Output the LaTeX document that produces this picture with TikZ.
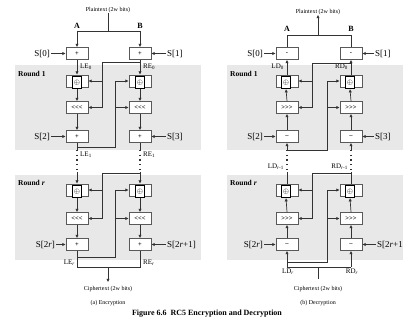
\documentclass[tikz,border=0pt]{standalone}
\usepackage{fontspec}
\setmainfont{Liberation Serif}
\usetikzlibrary{arrows.meta}
\newcommand{\rotl}{<\kern0pt<\kern0pt<}
\newcommand{\rotr}{>\kern0pt>\kern0pt>}
\begin{document}
\begin{tikzpicture}[x=1pt,y=-1pt,
  ln/.style={draw=black!80, line width=0.7pt},
  arr/.style={ln, -{Triangle[length=3.2pt,width=2.8pt]}},
  opbox/.style={draw=black!65, line width=0.9pt, fill=white, minimum width=22pt, minimum height=12pt, inner sep=0pt, font=\fontsize{6.5}{6.5}\selectfont\bfseries},
  xorin/.style={draw=black, line width=0.9pt, fill=white, minimum width=9pt, minimum height=12.5pt, inner sep=0pt, font=\fontsize{7}{7}\selectfont},
  slab/.style={font=\fontsize{9}{9}\selectfont, inner sep=1pt},
  wlab/.style={font=\fontsize{7}{7}\selectfont, inner sep=0pt},
  ablab/.style={font=\fontsize{8}{8}\selectfont\bfseries, inner sep=0pt},
  rlab/.style={font=\fontsize{7.5}{7.5}\selectfont\bfseries, inner sep=0pt, anchor=west},
  tinytxt/.style={font=\fontsize{6}{6}\selectfont, inner sep=0pt},
  band/.style={fill=black!9, draw=none},
  dotl/.style={draw=black!80, line width=1.1pt, dash pattern=on 1.1pt off 3.6pt}
]
\useasboundingbox (0,0) rectangle (403,321);
\fill[white] (0,0) rectangle (403,321);
% bands
\fill[band] (15,65) rectangle (201,150);
\fill[band] (15,175) rectangle (201,260);
\fill[band] (227,65) rectangle (403,150);
\fill[band] (227,175) rectangle (403,260);

%================ ENCRYPTION ================
\node[tinytxt] (ept) at (108,10) {Plaintext (2w bits)};
\node[ablab] (eA) at (77,26) {A};
\node[ablab] (eB) at (140,26) {B};
\coordinate (ejT) at (108,31);
\coordinate (eTL) at (77,31);
\coordinate (eTR) at (140,31);
\draw[ln] (ept.south) -- (ejT);
\draw[ln] (eTL) -- (eTR);
\node[rlab] (eR1) at (18,74) {Round 1};
\node[rlab] (eRr) at (18,183) {Round \textit{r}};

% round 1 boxes
\node[opbox] (ea0) at (77,53.5) {+};
\node[opbox] (eb0) at (140,53.5) {+};
\node[opbox] (ex1L) at (77,81) {};
\node[xorin] (ex1Li) at (77,82.5) {$\oplus$};
\node[opbox] (ex1R) at (140,81) {};
\node[xorin] (ex1Ri) at (140,82.5) {$\oplus$};
\node[opbox] (eo1L) at (77,107.5) {\rotl};
\node[opbox] (eo1R) at (140,107.5) {\rotl};
\node[opbox] (ea1) at (77,136.5) {+};
\node[opbox] (eb1) at (140,136.5) {+};
% round r boxes
\node[opbox] (exrL) at (77,190) {};
\node[xorin] (exrLi) at (77,191.5) {$\oplus$};
\node[opbox] (exrR) at (140,190) {};
\node[xorin] (exrRi) at (140,191.5) {$\oplus$};
\node[opbox] (eorL) at (77,218.5) {\rotl};
\node[opbox] (eorR) at (140,218.5) {\rotl};
\node[opbox] (earL) at (77,244.5) {+};
\node[opbox] (earR) at (140,244.5) {+};

% key labels
\node[slab, anchor=east] (es0) at (51,53.5) {S[0]};
\node[slab, anchor=west] (es1) at (166,53.5) {S[1]};
\node[slab, anchor=east] (es2) at (51,136.5) {S[2]};
\node[slab, anchor=west] (es3) at (166,136.5) {S[3]};
\node[slab, anchor=east] (es2r) at (56,244.5) {S[2\textit{r}]};
\node[slab, anchor=west] (es2r1) at (166,244.5) {S[2\textit{r}+1]};
\draw[arr] (es0) -- (ea0);
\draw[arr] (es1) -- (eb0);
\draw[arr] (es2) -- (ea1);
\draw[arr] (es3) -- (eb1);
\draw[arr] (es2r) -- (earL);
\draw[arr] (es2r1) -- (earR);

% word labels
\node[wlab, anchor=west] (eLE0) at (80,67) {LE\textsubscript{0}};
\node[wlab, anchor=west] (eRE0) at (143,67) {RE\textsubscript{0}};
\node[wlab, anchor=west] (eLE1) at (80,155) {LE\textsubscript{1}};
\node[wlab, anchor=west] (eRE1) at (143,155) {RE\textsubscript{1}};
\node[wlab, anchor=east] (eLEr) at (75,263) {LE\textsubscript{\textit{r}}};
\node[wlab, anchor=west] (eREr) at (143,263) {RE\textsubscript{\textit{r}}};

% main flow
\draw[arr] (eTL) -- (ea0.north);
\draw[arr] (eTR) -- (eb0.north);
\draw[arr] (ea0.south) -- (ex1L.north);
\draw[arr] (eb0.south) -- (ex1R.north);
\draw[arr] (ex1Li.south) -- (eo1L.north);
\draw[arr] (ex1Ri.south) -- (eo1R.north);
\draw[arr] (eo1L.south) -- (ea1.north);
\draw[arr] (eo1R.south) -- (eb1.north);
\coordinate (ed1L) at (77,150); \coordinate (ed2L) at (77,172);
\coordinate (ed1R) at (140,150); \coordinate (ed2R) at (140,172);
\draw[ln] (ea1.south) -- (ed1L);
\draw[ln] (eb1.south) -- (ed1R);
\draw[dotl] (ed1L) -- (ed2L);
\draw[dotl] (ed1R) -- (ed2R);
\draw[arr] (ed2L) -- (exrL.north);
\draw[arr] (ed2R) -- (exrR.north);
\draw[arr] (exrLi.south) -- (eorL.north);
\draw[arr] (exrRi.south) -- (eorR.north);
\draw[arr] (eorL.south) -- (earL.north);
\draw[arr] (eorR.south) -- (earR.north);

% feedback round 1
\coordinate (ef1a) at (140,62); \coordinate (ef1b) at (102,62);
\draw[arr] (ef1a) -- (ef1b) |- (eo1L.east);
\draw[arr] (ef1b |- ex1L.east) -- (ex1L.east);
\coordinate (eg1a) at (77,147); \coordinate (eg1b) at (115,147);
\draw[arr] (eg1a) -- (eg1b) |- (ex1R.west);
\draw[arr] (eg1b |- eo1R.west) -- (eo1R.west);
% feedback round r
\coordinate (efra) at (140,173); \coordinate (efrb) at (102,173);
\draw[arr] (efra) -- (efrb) |- (eorL.east);
\draw[arr] (efrb |- exrL.east) -- (exrL.east);
\coordinate (egra) at (77,257); \coordinate (egrb) at (115,257);
\draw[arr] (egra) -- (egrb) |- (exrR.west);
\draw[arr] (egrb |- eorR.west) -- (eorR.west);

% output
\coordinate (ebL) at (77,267); \coordinate (ebR) at (140,267);
\coordinate (ebC) at (108,267);
\node[tinytxt] (ect) at (108,289) {Ciphertext (2w bits)};
\node[tinytxt] (ecap) at (108,303) {(a) Encryption};
\draw[ln] (earL.south) -- (ebL) -- (ebR) -- (earR.south);
\draw[arr] (ebC) -- (108,282);

%================ DECRYPTION ================
\node[tinytxt] (dpt) at (318,12) {Plaintext (2w bits)};
\node[ablab] (dA) at (287,29) {A};
\node[ablab] (dB) at (351,29) {B};
\coordinate (djT) at (318,35);
\coordinate (dTL) at (287,35);
\coordinate (dTR) at (351,35);
\draw[arr] (djT) -- (dpt.south);
\draw[ln] (dTL) -- (dTR);
\node[rlab] (dR1) at (230,74) {Round 1};
\node[rlab] (dRr) at (230,183) {Round \textit{r}};

\node[opbox] (da0) at (287,53.5) {-};
\node[opbox] (db0) at (351,53.5) {-};
\node[opbox] (dx1L) at (287,81) {};
\node[xorin] (dx1Li) at (286,82.5) {$\oplus$};
\node[opbox] (dx1R) at (351,81) {};
\node[xorin] (dx1Ri) at (350,82.5) {$\oplus$};
\node[opbox] (do1L) at (287,107.5) {\rotr};
\node[opbox] (do1R) at (351,107.5) {\rotr};
\node[opbox] (da1) at (287,136.5) {--};
\node[opbox] (db1) at (351,136.5) {--};
\node[opbox] (dxrL) at (287,190) {};
\node[xorin] (dxrLi) at (286,191.5) {$\oplus$};
\node[opbox] (dxrR) at (351,190) {};
\node[xorin] (dxrRi) at (350,191.5) {$\oplus$};
\node[opbox] (dorL) at (287,218.5) {\rotr};
\node[opbox] (dorR) at (351,218.5) {\rotr};
\node[opbox] (darL) at (287,244.5) {--};
\node[opbox] (darR) at (351,244.5) {--};

\node[slab, anchor=east] (ds0) at (264,53.5) {S[0]};
\node[slab, anchor=west] (ds1) at (374,53.5) {S[1]};
\node[slab, anchor=east] (ds2) at (264,136.5) {S[2]};
\node[slab, anchor=west] (ds3) at (374,136.5) {S[3]};
\node[slab, anchor=east] (ds2r) at (264,244.5) {S[2\textit{r}]};
\node[slab, anchor=west] (ds2r1) at (376,244.5) {S[2\textit{r}+1]};
\draw[arr] (ds0) -- (da0);
\draw[arr] (ds1) -- (db0);
\draw[arr] (ds2) -- (da1);
\draw[arr] (ds3) -- (db1);
\draw[arr] (ds2r) -- (darL);
\draw[arr] (ds2r1) -- (darR);

\node[wlab, anchor=east] (dLD0) at (284,67) {LD\textsubscript{0}};
\node[wlab, anchor=east] (dRD0) at (348,67) {RD\textsubscript{0}};
\node[wlab, anchor=east] (dLD1) at (284,167) {LD\textsubscript{\textit{r}-1}};
\node[wlab, anchor=east] (dRD1) at (348,167) {RD\textsubscript{\textit{r}-1}};
\node[wlab, anchor=north] (dLDr) at (288,269) {LD\textsubscript{\textit{r}}};
\node[wlab, anchor=north] (dRDr) at (352,269) {RD\textsubscript{\textit{r}}};

\draw[ln] (da0.north) -- (dTL);
\draw[ln] (db0.north) -- (dTR);
\draw[arr] (dx1L.north) -- (da0.south);
\draw[arr] (dx1R.north) -- (db0.south);
\draw[arr] (do1L.north) -- (dx1Li.south);
\draw[arr] (do1R.north) -- (dx1Ri.south);
\draw[arr] (da1.north) -- (do1L.south);
\draw[arr] (db1.north) -- (do1R.south);
\coordinate (dd1L) at (287,150); \coordinate (dd2L) at (287,172);
\coordinate (dd1R) at (351,150); \coordinate (dd2R) at (351,172);
\draw[arr] (dd1L) -- (da1.south);
\draw[arr] (dd1R) -- (db1.south);
\draw[dotl] (dd1L) -- (dd2L);
\draw[dotl] (dd1R) -- (dd2R);
\draw[ln] (dxrL.north) -- (dd2L);
\draw[ln] (dxrR.north) -- (dd2R);
\draw[arr] (dorL.north) -- (dxrLi.south);
\draw[arr] (dorR.north) -- (dxrRi.south);
\draw[arr] (darL.north) -- (dorL.south);
\draw[arr] (darR.north) -- (dorR.south);

% feedback round 1
\coordinate (df1a) at (351,63); \coordinate (df1b) at (312,63);
\draw[arr] (df1a) -- (df1b) |- (do1L.east);
\draw[arr] (df1b |- dx1L.east) -- (dx1L.east);
\coordinate (dg1a) at (287,150); \coordinate (dg1b) at (327,150);
\draw[arr] (dg1a) -- (dg1b) |- (dx1R.west);
\draw[arr] (dg1b |- do1R.west) -- (do1R.west);
% feedback round r
\coordinate (dfra) at (351,173); \coordinate (dfrb) at (312,173);
\draw[arr] (dfra) -- (dfrb) |- (dorL.east);
\draw[arr] (dfrb |- dxrL.east) -- (dxrL.east);
\coordinate (dgra) at (287,262); \coordinate (dgrb) at (327,262);
\draw[arr] (dgra) -- (dgrb) |- (dxrR.west);
\draw[arr] (dgrb |- dorR.west) -- (dorR.west);

% input
\coordinate (dbL) at (287,267); \coordinate (dbR) at (351,267);
\coordinate (dbC) at (318,267); \coordinate (dbD) at (318,279);
\node[tinytxt] (dct) at (318,289) {Ciphertext (2w bits)};
\node[tinytxt] (dcap) at (318,303) {(b) Decryption};
\draw[ln] (dbL) -- (dbR);
\draw[ln] (dbC) -- (dbD);
\draw[arr] (dbL) -- (darL.south);
\draw[arr] (dbR) -- (darR.south);

% caption
\node[font=\fontsize{8}{8}\selectfont\bfseries, inner sep=0pt] (fig) at (207,314) {Figure 6.6\enspace RC5 Encryption and Decryption};
\end{tikzpicture}
\end{document}
